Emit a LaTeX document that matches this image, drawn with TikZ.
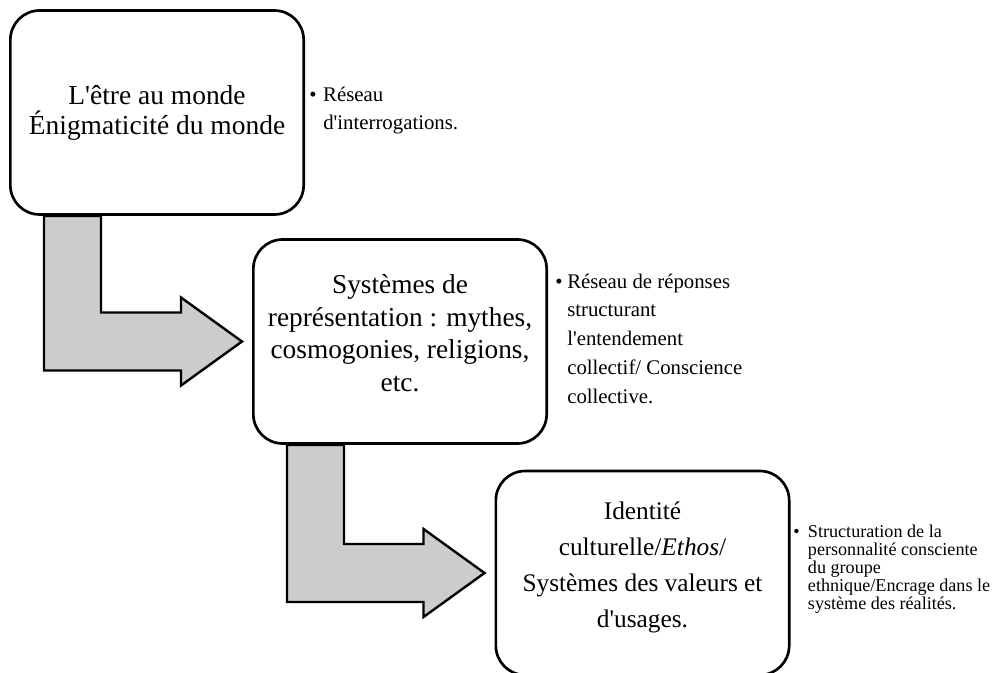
\documentclass[tikz,border=0pt]{standalone}
\usepackage{fontspec}
\setmainfont{Liberation Serif}[Ligatures=TeXOff]
\usepackage{tikz}
\usepackage{xcolor}
\usetikzlibrary{calc}
\definecolor{arrowgray}{RGB}{204,204,204}

\begin{document}
\begin{tikzpicture}[x=0.75pt,y=-0.75pt,
    box/.style={draw,line width=2pt,rounded corners=22pt,fill=white,
        minimum width=220pt,minimum height=153pt,align=center,inner sep=0pt},
    elbow/.style={draw,line width=1.8pt,fill=arrowgray,line join=miter},
    note/.style={anchor=base west,inner sep=0pt}]
\useasboundingbox (0,0) rectangle (994,673);

% the three steps
\node[box,font=\fontsize{20.6}{22.5}\selectfont] (monde) at (157,112.5)
    {L'être au monde\\Énigmaticité du monde};
\node[box,font=\fontsize{20.5}{24.5}\selectfont,text depth=13pt] (repres) at (400,341.5)
    {Systèmes de\\représentation : mythes,\\cosmogonies, religions,\\etc.};
\node[box,font=\fontsize{19}{27}\selectfont,text depth=13pt] (identite) at (642.5,573)
    {Identité\\culturelle/\textit{Ethos}/\\Systèmes des valeurs et\\d'usages.};

% bent arrows from one step to the next
\foreach \a/\b in {monde/repres, repres/identite}
    \draw[elbow] ($(\a.south west)+(35,0)$) coordinate (p1)
        -- ($(\a.south west)+(92,0)$) |- ($(\b.west)+(-71,-29)$)
        -- ++(0,-15) -- ($(\b.west)+(-10,0)$) -- ++(-61,44)
        -- ++(0,-15) coordinate (p8) -- (p1 |- p8) -- cycle;

% notes on the right
\node[note,font=\fontsize{15.6}{21}\selectfont] (n1) at (309,102)
    {\begin{tabular}[t]{@{}l@{}l@{}}\makebox[10.5pt][l]{\textbullet} & Réseau\\
     & d'interrogations.\end{tabular}};
\node[note,font=\fontsize{15.6}{21.6}\selectfont] (n2) at (555,288)
    {\begin{tabular}[t]{@{}l@{}l@{}}\makebox[9pt][l]{\textbullet} & Réseau de réponses\\
     & structurant\\ & l'entendement\\ & collectif/ Conscience\\
     & collective.\end{tabular}};
\node[note,font=\fontsize{13.6}{13.5}\selectfont] (n3) at (793,537)
    {\begin{tabular}[t]{@{}l@{}l@{}}\makebox[11pt][l]{\textbullet} & Structuration de la\\
     & personnalité consciente\\ & du groupe\\ & ethnique/Encrage dans le\\
     & système des réalités.\end{tabular}};
\end{tikzpicture}
\end{document}
